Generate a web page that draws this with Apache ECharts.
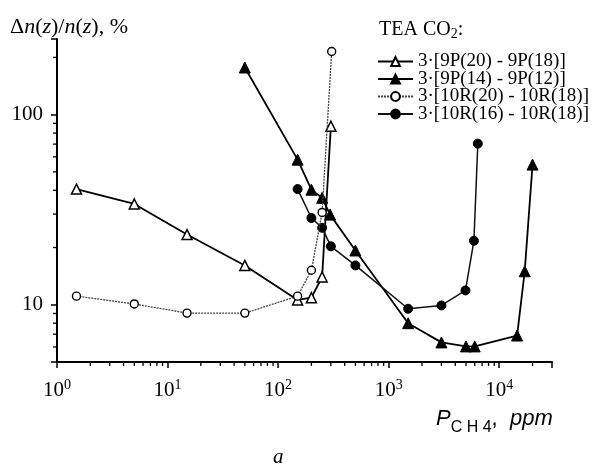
<!DOCTYPE html>
<html><head><meta charset="utf-8">
<script src="https://cdn.jsdelivr.net/npm/echarts@6/dist/echarts.min.js"></script>
<style>html,body{margin:0;padding:0;background:#fff}#c{width:595px;height:466px}</style>
</head><body><div id="c"></div>
<script>
// ---- data ----
const seriesNames = ['3·[9P(20) - 9P(18)]', '3·[9P(14) - 9P(12)]', '3·[10R(20) - 10R(18)]', '3·[10R(16) - 10R(18)]'];
const openTriX  = [1.5, 5, 15, 50, 150, 200, 250, 300];
const openTriY  = [40.6, 33.9, 23.4, 16.1, 10.6, 10.9, 14.0, 87];
const fillTriX  = [50, 150, 200, 250, 295, 500, 1500, 3000, 5000, 6000, 14500, 17000, 20000];
const fillTriY  = [177, 58, 40.3, 36.5, 29.8, 19.3, 8.0, 6.34, 6.04, 6.04, 6.89, 15.0, 54.6];
const openCircX = [1.5, 5, 15, 50, 150, 200, 250, 305];
const openCircY = [11.1, 10.1, 9.04, 9.04, 11.1, 15.2, 30.6, 215];
const fillCircX = [150, 200, 250, 300, 500, 1500, 3000, 4950, 5900, 6400];
const fillCircY = [40.6, 28.6, 25.4, 20.3, 16.1, 9.53, 9.92, 11.9, 21.7, 70.4];
const xMin = 1, xMax = 30000, yMin = 5, yMax = 250;
const xMinorTicks = [2, 3, 4, 5, 6, 7, 8, 9, 20, 30, 40, 50, 60, 70, 80, 90, 200, 300, 400, 500, 600, 700, 800, 900,
  2000, 3000, 4000, 5000, 6000, 7000, 8000, 9000, 20000];
const yMinorTicks = [6, 7, 8, 9, 20, 30, 40, 50, 60, 70, 80, 90, 200];

const pairs = (xs, ys) => xs.map((x, i) => [x, ys[i]]);
const serif = 'Liberation Serif';
const sans = 'Liberation Sans';

function isPow10(v) {
  const e = Math.log10(v);
  return Math.abs(e - Math.round(e)) < 1e-6;
}

const chart = echarts.init(document.getElementById('c'), null, { renderer: 'canvas' });

function minorSeries(name, values, isX) {
  return {
    name: name, type: 'custom', coordinateSystem: 'cartesian2d', silent: true, clip: false, z: 5,
    data: values.map(v => isX ? [v, yMin] : [xMin, v]),
    renderItem: function (params, api) {
      const p = api.coord([api.value(0), api.value(1)]);
      const shape = isX ? { x1: p[0], y1: p[1], x2: p[0], y2: p[1] + 4 }
                        : { x1: p[0], y1: p[1], x2: p[0] - 4, y2: p[1] };
      return { type: 'line', shape: shape, style: { stroke: '#000', lineWidth: 1.3 } };
    }
  };
}

const option = {
  animation: false,
  backgroundColor: '#fff',
  grid: { left: 57, right: 43, top: 39, bottom: 104, outerBoundsMode: 'none', containLabel: false },
  xAxis: {
    type: 'log', logBase: 10, min: xMin, max: xMax,
    axisLine: { show: true, lineStyle: { color: '#000', width: 2 } },
    axisTick: { show: true, inside: false, length: 6, lineStyle: { color: '#000', width: 1.5 } },
    splitLine: { show: false },
    minorTick: { show: false },
    axisLabel: {
      margin: 16, color: '#000',
      formatter: function (v) {
        if (!isPow10(v)) return '';
        return '{b|10}{s|' + Math.round(Math.log10(v)) + '}';
      },
      rich: {
        b: { fontFamily: serif, fontSize: 21, lineHeight: 24, color: '#000' },
        s: { fontFamily: serif, fontSize: 14, lineHeight: 14, verticalAlign: 'top', color: '#000' }
      }
    }
  },
  yAxis: {
    type: 'log', logBase: 10, min: yMin, max: yMax,
    axisLine: { show: true, lineStyle: { color: '#000', width: 2 } },
    axisTick: { show: true, inside: false, length: 6, lineStyle: { color: '#000', width: 1.5 } },
    splitLine: { show: false },
    minorTick: { show: false },
    axisLabel: {
      margin: 14, color: '#000', fontFamily: serif, fontSize: 21,
      formatter: function (v) { return isPow10(v) ? String(Math.round(v)) : ''; }
    }
  },
  legend: {
    data: seriesNames, orient: 'vertical', left: 377, top: 52, itemWidth: 35, itemHeight: 11, itemGap: -1.5,
    padding: 0,
    textStyle: { fontFamily: serif, fontSize: 19, color: '#000', lineHeight: 17 }
  },
  graphic: [
    {
      type: 'text', left: 10, top: 16,
      style: {
        text: '{r|Δ}{i|n}{r|(}{i|z}{r|)/}{i|n}{r|(}{i|z}{r|), %}',
        rich: {
          r: { fontFamily: serif, fontSize: 22, fill: '#000' },
          i: { fontFamily: serif, fontSize: 22, fontStyle: 'italic', fill: '#000' }
        }
      }
    },
    {
      type: 'text', left: 379, top: 20,
      style: {
        text: '{r|TEA CO}{s|2}{r|:}',
        rich: {
          r: { fontFamily: serif, fontSize: 20, lineHeight: 22, fill: '#000' },
          s: { fontFamily: serif, fontSize: 14, lineHeight: 12, verticalAlign: 'bottom', fill: '#000' }
        }
      }
    },
    {
      type: 'text', left: 436, top: 408,
      style: {
        text: '{p|P}{s|C H }{t|4}{r|,  }{p|ppm}',
        rich: {
          p: { fontFamily: sans, fontSize: 22, fontStyle: 'italic', lineHeight: 34, fill: '#000' },
          r: { fontFamily: sans, fontSize: 22, lineHeight: 34, fill: '#000' },
          s: { fontFamily: sans, fontSize: 16, lineHeight: 14, verticalAlign: 'bottom', fill: '#000' },
          t: { fontFamily: sans, fontSize: 16, lineHeight: 10, verticalAlign: 'bottom', fill: '#000' }
        }
      }
    },
    {
      type: 'text', left: 273, top: 447,
      style: { text: 'a', fontFamily: serif, fontSize: 21, fontStyle: 'italic', fill: '#000' }
    }
  ],
  series: [
    {
      name: seriesNames[0], type: 'line', data: pairs(openTriX, openTriY), z: 3,
      symbol: 'triangle', symbolSize: 10, showAllSymbol: true,
      itemStyle: { color: '#fff', borderColor: '#000', borderWidth: 1.5 },
      lineStyle: { color: '#000', width: 1.8 }
    },
    {
      name: seriesNames[1], type: 'line', data: pairs(fillTriX, fillTriY), z: 3,
      symbol: 'triangle', symbolSize: 11, showAllSymbol: true,
      itemStyle: { color: '#000', borderColor: '#000', borderWidth: 1 },
      lineStyle: { color: '#000', width: 1.8 }
    },
    {
      name: seriesNames[2], type: 'line', data: pairs(openCircX, openCircY), z: 4,
      symbol: 'circle', symbolSize: 8, showAllSymbol: true,
      itemStyle: { color: '#fff', borderColor: '#000', borderWidth: 1.4 },
      lineStyle: { color: '#444', width: 1.3, type: [2, 1] }
    },
    {
      name: seriesNames[3], type: 'line', data: pairs(fillCircX, fillCircY), z: 3,
      symbol: 'circle', symbolSize: 9, showAllSymbol: true,
      itemStyle: { color: '#000', borderColor: '#000', borderWidth: 1 },
      lineStyle: { color: '#111', width: 1.5 }
    },
    minorSeries('xminor', xMinorTicks, true),
    minorSeries('yminor', yMinorTicks, false)
  ]
};
chart.setOption(option);
</script>
</body></html>
